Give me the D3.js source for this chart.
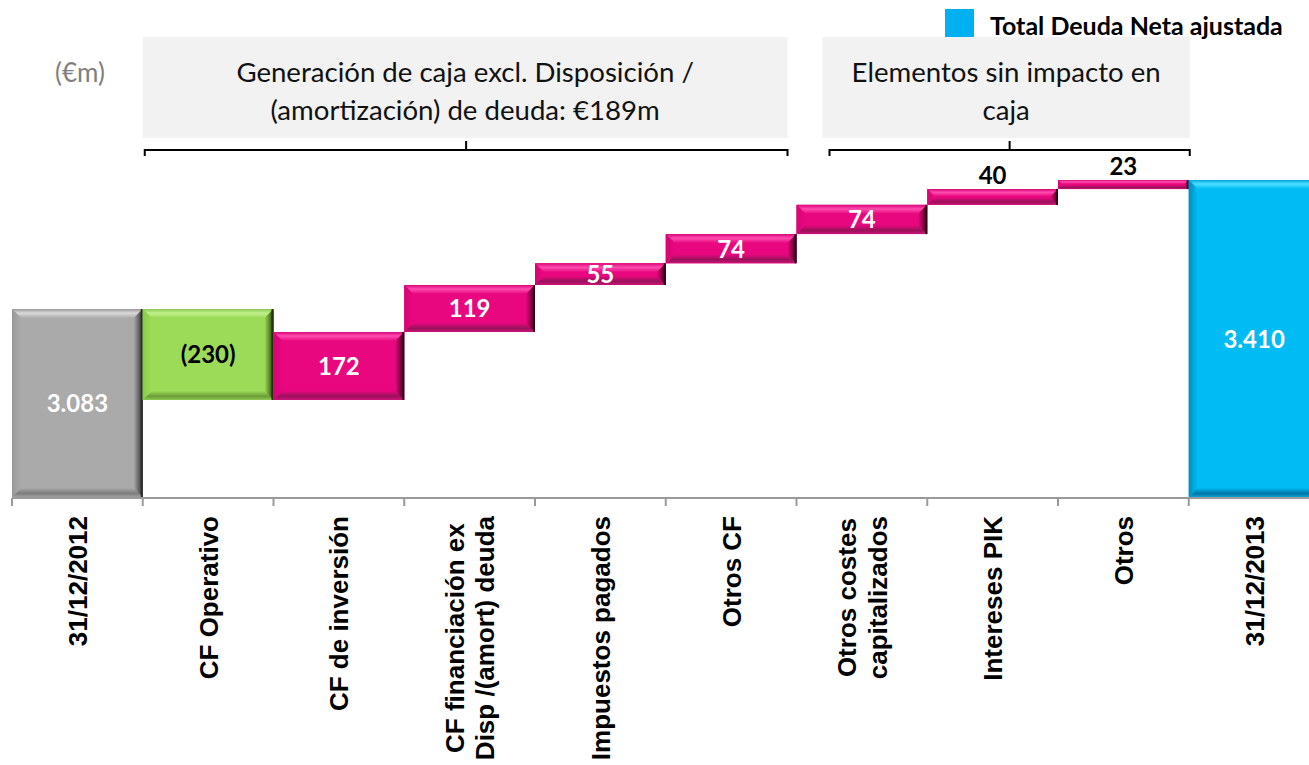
<!DOCTYPE html>
<html>
<head>
<meta charset="utf-8">
<script src="https://cdn.jsdelivr.net/npm/d3@7"></script>
<style>
  html, body { margin: 0; padding: 0; background: #fff; overflow: hidden; }
  svg { display: block; }
</style>
</head>
<body>
<svg id="chart" width="1309" height="765"></svg>
<script>
// ---------------- DATA ----------------
const categories = [
  "31/12/2012",
  "CF Operativo",
  "CF de inversión",
  "CF financiación ex\nDisp /(amort) deuda",
  "Impuestos pagados",
  "Otros CF",
  "Otros costes\ncapitalizados",
  "Intereses PIK",
  "Otros",
  "31/12/2013"
];
const values = [3083, -230, 172, 119, 55, 74, 74, 40, 23, 3410];
const barKinds = ["total", "delta", "delta", "delta", "delta", "delta", "delta", "delta", "delta", "total"];
const yDomain = [2607, 3410];
const unitLabel = "(€m)";
const legendLabel = "Total Deuda Neta ajustada";
const groupLabels = [
  ["Generación de caja excl. Disposición /", "(amortización) de deuda: €189m"],
  ["Elementos sin impacto en", "caja"]
];
const groupRanges = [[1, 5], [6, 8]];

// ---------------- LAYOUT ----------------
const W = 1309, H = 765;
const svg = d3.select("#chart");
const defs = svg.append("defs");

const x = d3.scaleBand().domain(categories).range([12, 12 + 10 * 130.75]).paddingInner(0).paddingOuter(0);
const y = d3.scaleLinear().domain(yDomain).range([497, 180]);

const palettes = {
  gray:    { face: "#aaaaaa", hi: "#dadada", topEdge: "#9a9a9a", left: "#989898", right: "#666666", edge: "#2e2e2e", bottom: "#7c7c7c", bottomEdge: "#a0a0a0" },
  green:   { face: "#9cdb58", hi: "#c2f08c", topEdge: "#8cc850", left: "#8acb48", right: "#5a8a2c", edge: "#1e3310", bottom: "#6c9c38", bottomEdge: "#8cc850" },
  magenta: { face: "#e8077f", hi: "#ff4dae", topEdge: "#d8057a", left: "#d60476", right: "#880044", edge: "#300018", bottom: "#981259", bottomEdge: "#d0107a" },
  blue:    { face: "#00bbf4", hi: "#4ddfff", topEdge: "#00a8e0", left: "#008cbc", right: "#0085b5", edge: "#005e85", bottom: "#0076a4", bottomEdge: "#0aa0d0" }
};

Object.entries(palettes).forEach(([name, p]) => {
  const gt = defs.append("linearGradient").attr("id", "top-" + name).attr("x1", 0).attr("y1", 0).attr("x2", 0).attr("y2", 1);
  gt.append("stop").attr("offset", "0%").attr("stop-color", p.topEdge);
  gt.append("stop").attr("offset", "45%").attr("stop-color", p.hi);
  gt.append("stop").attr("offset", "100%").attr("stop-color", p.face);
  const gb = defs.append("linearGradient").attr("id", "bot-" + name).attr("x1", 0).attr("y1", 0).attr("x2", 0).attr("y2", 1);
  gb.append("stop").attr("offset", "0%").attr("stop-color", p.face);
  gb.append("stop").attr("offset", "60%").attr("stop-color", p.bottom);
  gb.append("stop").attr("offset", "100%").attr("stop-color", p.bottomEdge);
  const gl = defs.append("linearGradient").attr("id", "left-" + name).attr("x1", 0).attr("y1", 0).attr("x2", 1).attr("y2", 0);
  gl.append("stop").attr("offset", "0%").attr("stop-color", p.left);
  gl.append("stop").attr("offset", "100%").attr("stop-color", p.face);
  const gr = defs.append("linearGradient").attr("id", "right-" + name).attr("x1", 0).attr("y1", 0).attr("x2", 1).attr("y2", 0);
  gr.append("stop").attr("offset", "0%").attr("stop-color", p.face);
  gr.append("stop").attr("offset", "55%").attr("stop-color", p.right);
  gr.append("stop").attr("offset", "100%").attr("stop-color", p.edge);
});

// compute waterfall
let running = 0;
const bars = categories.map((c, i) => {
  const v = values[i];
  let lo, hi;
  if (barKinds[i] === "total") { lo = yDomain[0]; hi = v; running = v; }
  else { const start = running; running += v; lo = Math.min(start, running); hi = Math.max(start, running); }
  let pal;
  if (barKinds[i] === "total") pal = (i === 0) ? "gray" : "blue";
  else pal = v < 0 ? "green" : "magenta";
  return { cat: c, v, lo, hi, pal, kind: barKinds[i] };
});

// legend
const legendG = svg.append("g");
legendG.append("rect").attr("x", 945).attr("y", 9).attr("width", 29).attr("height", 28).attr("fill", "#00b0f0");
legendG.append("text").attr("x", 990).attr("y", 35)
  .attr("font-family", "Lato, 'Open Sans', sans-serif").attr("font-weight", 700).attr("font-size", 25)
  .attr("fill", "#000").text(legendLabel);

const boxExtents = [
  [x(categories[groupRanges[0][0]]), x(categories[groupRanges[0][1] + 1]) - 9],
  [x(categories[groupRanges[1][0]]) + 26, x(categories[groupRanges[1][1] + 1]) + 1]
];
const bracketExtents = [
  [x(categories[groupRanges[0][0]]) + 2, x(categories[groupRanges[0][1] + 1]) - 9],
  [x(categories[groupRanges[1][0]]) + 33, x(categories[groupRanges[1][1] + 1]) + 1]
];

groupLabels.forEach((lines, gi) => {
  const [bx0, bx1] = boxExtents[gi];
  svg.append("rect").attr("x", bx0).attr("y", 37).attr("width", bx1 - bx0).attr("height", 101).attr("fill", "#f2f2f2");
  const cx = (bx0 + bx1) / 2;
  const t = svg.append("text").attr("text-anchor", "middle")
    .attr("font-family", "Lato, 'Open Sans', sans-serif").attr("font-size", 27.6).attr("fill", "#111");
  lines.forEach((ln, li) => {
    t.append("tspan").attr("x", cx).attr("y", 82 + li * 38).text(ln);
  });
  const [k0, k1] = bracketExtents[gi];
  const km = (k0 + k1) / 2;
  svg.append("path")
    .attr("d", `M${k0},156 L${k0},150 L${k1},150 L${k1},156 M${km},150 L${km},141`)
    .attr("fill", "none").attr("stroke", "#000").attr("stroke-width", 2);
});

svg.append("text").attr("x", 55).attr("y", 82)
  .attr("font-family", "Lato, 'Open Sans', sans-serif").attr("font-size", 26).attr("fill", "#7f7f7f")
  .text(unitLabel);

// bars
const barG = svg.append("g");
bars.forEach(b => {
  const x0 = x(b.cat), w = x.bandwidth();
  const y0 = y(b.hi), h = y(b.lo) - y(b.hi);
  const bev = Math.max(1, Math.min(9, h / 2 - 0.5, w / 2));
  const g = barG.append("g");
  const p = palettes[b.pal];
  g.append("rect").attr("x", x0).attr("y", y0).attr("width", w).attr("height", h).attr("fill", p.face);
  const pt = (a) => a.map(q => q.join(",")).join(" ");
  g.append("polygon").attr("points", pt([[x0, y0], [x0 + w, y0], [x0 + w - bev, y0 + bev], [x0 + bev, y0 + bev]])).attr("fill", `url(#top-${b.pal})`);
  g.append("polygon").attr("points", pt([[x0, y0 + h], [x0 + w, y0 + h], [x0 + w - bev, y0 + h - bev], [x0 + bev, y0 + h - bev]])).attr("fill", `url(#bot-${b.pal})`);
  g.append("polygon").attr("points", pt([[x0, y0], [x0 + bev, y0 + bev], [x0 + bev, y0 + h - bev], [x0, y0 + h]])).attr("fill", `url(#left-${b.pal})`);
  g.append("polygon").attr("points", pt([[x0 + w, y0], [x0 + w - bev, y0 + bev], [x0 + w - bev, y0 + h - bev], [x0 + w, y0 + h]])).attr("fill", `url(#right-${b.pal})`);
  g.append("rect").attr("x", x0 + w - 2).attr("y", y0).attr("width", 2).attr("height", h).attr("fill", p.edge);
});

// axis
const axisG = svg.append("g").attr("transform", "translate(0,498)");
axisG.append("line").attr("x1", 12).attr("x2", W).attr("y1", 0).attr("y2", 0).attr("stroke", "#9a9a9a").attr("stroke-width", 2);
const tickXs = categories.map(c => x(c)).concat([x(categories[categories.length - 1]) + x.bandwidth()]);
axisG.selectAll("line.tick").data(tickXs).join("line").attr("class", "tick")
  .attr("x1", d => d).attr("x2", d => d).attr("y1", 0).attr("y2", 8)
  .attr("stroke", "#9a9a9a").attr("stroke-width", 2);

// value labels
const fmtNum = d3.formatLocale({ decimal: ",", thousands: ".", grouping: [3], currency: ["", "€"] }).format(",d");
bars.forEach(b => {
  const cx = x(b.cat) + x.bandwidth() / 2;
  const yt = y(b.hi), yb = y(b.lo);
  const h = yb - yt;
  const label = b.v < 0 ? `(${fmtNum(-b.v)})` : fmtNum(b.v);
  const above = h < 20;
  const dark = above || b.pal === "green";
  svg.append("text")
    .attr("x", cx).attr("y", above ? yt - 5 : (yt + yb) / 2 + 9)
    .attr("text-anchor", "middle")
    .attr("font-family", "Lato, 'Open Sans', sans-serif").attr("font-weight", 700).attr("font-size", 24)
    .attr("fill", dark ? "#000" : "#fff")
    .text(label);
});

// category labels (rotated)
const lblFs = 26, lblLh = 31, lblTop = 516;
categories.forEach(c => {
  const lines = c.split("\n");
  const cx = x(c) + x.bandwidth() / 2;
  const g = svg.append("g").attr("transform", `translate(${cx},${lblTop}) rotate(-90)`);
  const t = g.append("text")
    .attr("font-family", "'Liberation Sans', Arial, sans-serif").attr("font-weight", 700).attr("font-size", lblFs)
    .attr("fill", "#000").attr("text-anchor", "middle");
  const spans = lines.map((ln, i) => t.append("tspan").attr("y", (i - (lines.length - 1) / 2) * lblLh + lblFs * 0.36).text(ln));
  const maxL = d3.max(spans, s => s.node().getComputedTextLength());
  spans.forEach(s => s.attr("x", -maxL / 2));
});
</script>
</body>
</html>
